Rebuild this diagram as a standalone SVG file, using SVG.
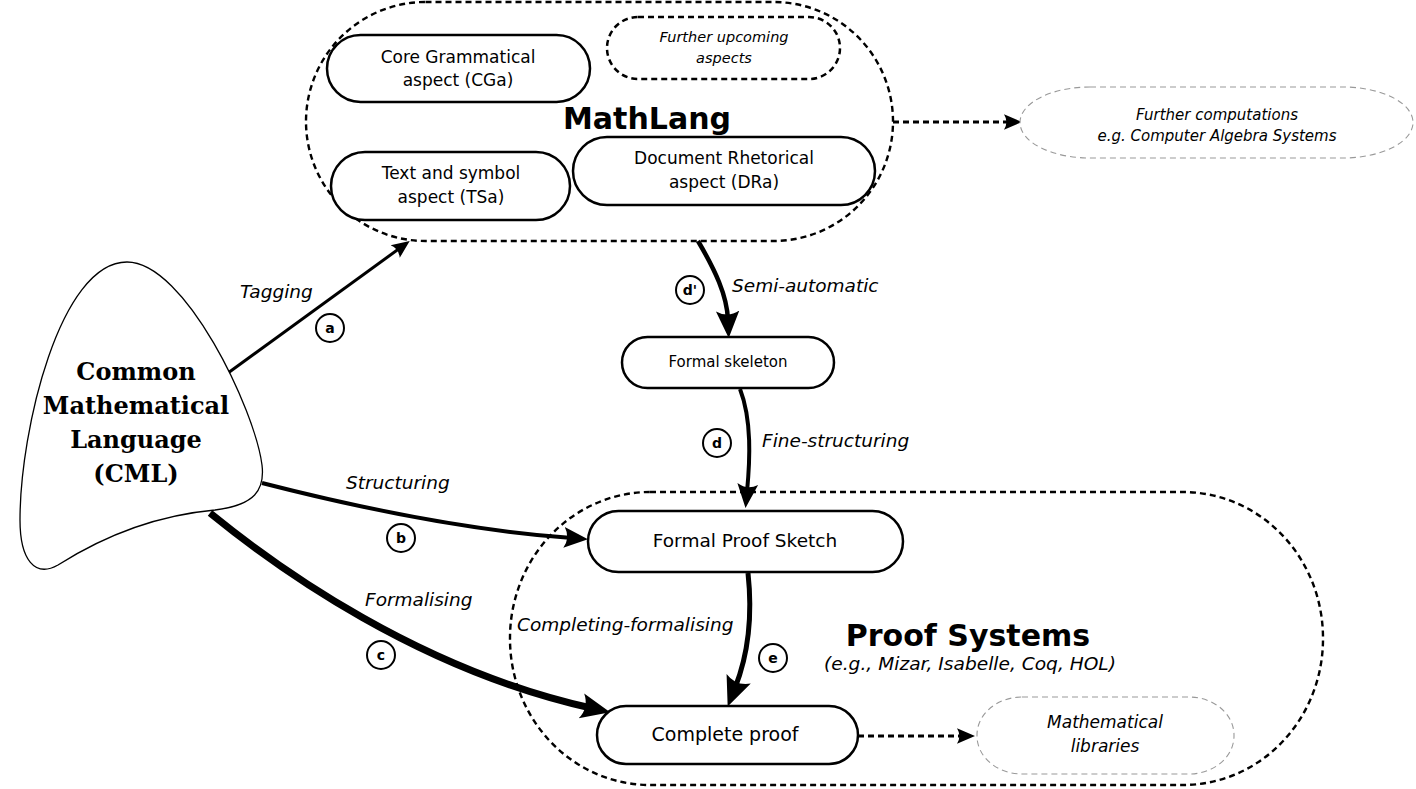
<svg xmlns="http://www.w3.org/2000/svg" width="1416" height="789" viewBox="0 0 1416 789">
<style>
.bg{fill:#fff}
.cont{fill:none;stroke:#000;stroke-width:2.4;stroke-dasharray:6,4}
.gray{fill:#fff;stroke:#999;stroke-width:1.1;stroke-dasharray:6,4}
.node{fill:#fff;stroke:#000;stroke-width:2.5}
.dnode{fill:#fff;stroke:#000;stroke-width:2.5;stroke-dasharray:6,4}
.conn{fill:none;stroke:#000}
.circ{fill:#fff;stroke:#000;stroke-width:2}
text{font-family:"DejaVu Sans","Liberation Sans",sans-serif;fill:#000;text-anchor:middle}
.t17{font-size:17px}
.it{font-style:italic}
.lbl{font-size:18.5px;font-style:italic;text-anchor:start}
.cl{font-size:14px;font-weight:bold}
.big{font-size:30px;font-weight:bold}
.cml{font-family:"DejaVu Serif","Liberation Serif",serif;font-size:24px;font-weight:bold}
</style>
<defs>
<marker id="ah" viewBox="0 -3 6 6" markerWidth="6" markerHeight="6" refX="2" refY="0" orient="auto" markerUnits="strokeWidth">
<path d="M0,-2.6 L6,0 L0,2.6 Q1.6,0 0,-2.6 Z" fill="#000"/>
</marker>
<marker id="ahs" viewBox="0 -3 6 6" markerWidth="4.2" markerHeight="4.2" refX="2" refY="0" orient="auto" markerUnits="strokeWidth">
<path d="M0,-2.6 L6,0 L0,2.6 Q1.6,0 0,-2.6 Z" fill="#000"/>
</marker>
</defs>
<rect x="0" y="0" width="1416" height="789" class="bg"/>

<g id="mathlang-container">
<rect x="306" y="2" width="587" height="239" rx="119.5" ry="119.5" class="cont"/>
<text x="647" y="129" class="big">MathLang</text>
</g>
<g id="proof-systems-container">
<rect x="510" y="492" width="813" height="293" rx="140" ry="146" class="cont"/>
<text x="968" y="646" style="font-size:30px;font-weight:bold">Proof Systems</text>
<text x="970" y="670" class="it" style="font-size:17px" textLength="292" lengthAdjust="spacingAndGlyphs">(e.g., Mizar, Isabelle, Coq, HOL)</text>
</g>

<g id="connectors">
<path class="conn" d="M228,373 L400,248" style="stroke-width:3" marker-end="url(#ah)"/>
<path class="conn" d="M262,483 C340,503 460,530 572,538" style="stroke-width:4" marker-end="url(#ah)"/>
<path class="conn" d="M210,513 C280,570 420,670 591,708" style="stroke-width:7" marker-end="url(#ahs)"/>
<path class="conn" d="M698,241 C715,270 727,295 728,320" style="stroke-width:4.5" marker-end="url(#ah)"/>
<path class="conn" d="M740,389 C752,420 750,460 747,492" style="stroke-width:4" marker-end="url(#ah)"/>
<path class="conn" d="M748,573 C752,610 750,650 735,688" style="stroke-width:5" marker-end="url(#ah)"/>
<path class="conn" d="M893,122 L1010,122" style="stroke-width:3;stroke-dasharray:6,4" marker-end="url(#ah)"/>
<path class="conn" d="M858,736 L963,736" style="stroke-width:3;stroke-dasharray:6,4" marker-end="url(#ah)"/>
<text x="240" y="298" class="lbl">Tagging</text>
<text x="346" y="489" class="lbl">Structuring</text>
<text x="365" y="606" class="lbl">Formalising</text>
<text x="732" y="292" class="lbl">Semi-automatic</text>
<text x="762" y="447" class="lbl">Fine-structuring</text>
<text x="517" y="631" class="lbl">Completing-formalising</text>
<circle cx="330" cy="328" r="14" class="circ"/><text x="330" y="333" class="cl">a</text>
<circle cx="401" cy="538" r="14" class="circ"/><text x="401" y="543" class="cl">b</text>
<circle cx="381" cy="655" r="14" class="circ"/><text x="381" y="660" class="cl">c</text>
<circle cx="690" cy="290" r="14" class="circ"/><text x="690" y="295" class="cl">d'</text>
<circle cx="717" cy="443" r="14" class="circ"/><text x="717" y="448" class="cl">d</text>
<circle cx="773" cy="658" r="14" class="circ"/><text x="773" y="663" class="cl">e</text>
</g>

<g id="cml">
<path d="M127,262 C60,262 20,430 20,520 C20,560 35,578 58,565 C110,532 160,515 215,510 C255,505 265,490 262,465 C255,410 185,262 127,262 Z" fill="#fff" stroke="#000" stroke-width="1.3"/>
<text x="136" y="380" class="cml">Common</text>
<text x="136" y="414" class="cml">Mathematical</text>
<text x="136" y="448" class="cml">Language</text>
<text x="136" y="482" class="cml">(CML)</text>
</g>

<g id="cga">
<rect x="327" y="35" width="263" height="67" rx="33.5" class="node"/>
<text x="458" y="63" class="t17">Core Grammatical</text>
<text x="458" y="86" class="t17">aspect (CGa)</text>
</g>
<g id="further-aspects">
<rect x="607" y="17" width="233" height="62" rx="31" class="dnode"/>
<text x="724" y="42" class="it" style="font-size:14.5px">Further upcoming</text>
<text x="724" y="63" class="it" style="font-size:14.5px">aspects</text>
</g>
<g id="tsa">
<rect x="331" y="152" width="239" height="68" rx="34" class="node"/>
<text x="451" y="179" class="t17">Text and symbol</text>
<text x="451" y="203" class="t17">aspect (TSa)</text>
</g>
<g id="dra">
<rect x="573" y="137" width="302" height="68" rx="34" class="node"/>
<text x="724" y="164" class="t17">Document Rhetorical</text>
<text x="724" y="188" class="t17">aspect (DRa)</text>
</g>
<g id="further-computations">
<rect x="1020" y="87" width="393" height="71" rx="70" ry="35.5" class="gray"/>
<text x="1217" y="120" class="it" style="font-size:15px">Further computations</text>
<text x="1217" y="141" class="it" style="font-size:15px">e.g. Computer Algebra Systems</text>
</g>
<g id="formal-skeleton">
<rect x="622" y="337" width="212" height="51" rx="25.5" class="node"/>
<text x="728" y="367" style="font-size:15px">Formal skeleton</text>
</g>
<g id="formal-proof-sketch">
<rect x="588" y="511" width="315" height="61" rx="30.5" class="node"/>
<text x="745" y="547" style="font-size:18.5px">Formal Proof Sketch</text>
</g>
<g id="complete-proof">
<rect x="597" y="706" width="261" height="58" rx="29" class="node"/>
<text x="725" y="741" style="font-size:19px">Complete proof</text>
</g>
<g id="math-libraries">
<rect x="977" y="697" width="257" height="77" rx="45" ry="38" class="gray"/>
<text x="1105" y="728" class="it" style="font-size:17px">Mathematical</text>
<text x="1105" y="752" class="it" style="font-size:17px">libraries</text>
</g>
</svg>
